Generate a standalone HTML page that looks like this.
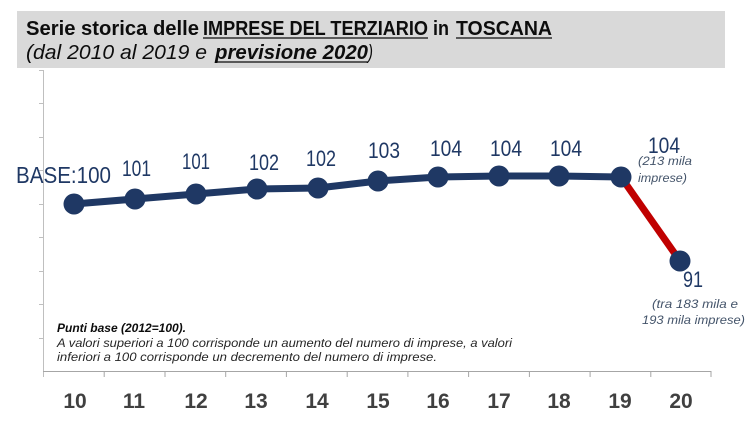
<!DOCTYPE html>
<html>
<head>
<meta charset="utf-8">
<style>
html,body{margin:0;padding:0;background:#fff;}
svg{display:block;}
text{font-family:"Liberation Sans",sans-serif;}
</style>
</head>
<body>
<svg width="750" height="421" viewBox="0 0 750 421" xmlns="http://www.w3.org/2000/svg">
  <rect x="0" y="0" width="750" height="421" fill="#ffffff"/>
  <!-- header box -->
  <rect x="17" y="11" width="708" height="57" fill="#D9D9D9"/>
  <!-- title -->
  <text x="26" y="35" font-size="20" font-weight="bold" fill="#0D0D0D" textLength="173" lengthAdjust="spacingAndGlyphs">Serie storica delle</text>
  <text x="203" y="35" font-size="20" font-weight="bold" fill="#0D0D0D" textLength="225" lengthAdjust="spacingAndGlyphs">IMPRESE DEL TERZIARIO</text>
  <text x="433" y="35" font-size="20" font-weight="bold" fill="#0D0D0D" textLength="16" lengthAdjust="spacingAndGlyphs">in</text>
  <text x="456" y="35" font-size="20" font-weight="bold" fill="#0D0D0D" textLength="96" lengthAdjust="spacingAndGlyphs">TOSCANA</text>
  <line x1="203" y1="38" x2="428" y2="38" stroke="#0D0D0D" stroke-width="1.3"/>
  <line x1="456" y1="38" x2="552" y2="38" stroke="#0D0D0D" stroke-width="1.3"/>
  <!-- subtitle -->
  <text x="26" y="59" font-size="20" font-style="italic" fill="#0D0D0D" textLength="181" lengthAdjust="spacingAndGlyphs">(dal 2010 al 2019 e</text>
  <text x="215" y="59" font-size="20" font-style="italic" font-weight="bold" fill="#0D0D0D" textLength="153" lengthAdjust="spacingAndGlyphs">previsione 2020</text>
  <text x="368" y="59" font-size="20" font-style="italic" fill="#0D0D0D" textLength="5" lengthAdjust="spacingAndGlyphs">)</text>
  <line x1="215" y1="62" x2="368" y2="62" stroke="#0D0D0D" stroke-width="1.3"/>

  <!-- y axis -->
  <g stroke="#BFBFBF" stroke-width="1">
    <line x1="43.5" y1="70" x2="43.5" y2="377"/>
    <line x1="39" y1="70.5" x2="43.5" y2="70.5"/>
    <line x1="39" y1="103.5" x2="43.5" y2="103.5"/>
    <line x1="39" y1="137.5" x2="43.5" y2="137.5"/>
    <line x1="39" y1="170.5" x2="43.5" y2="170.5"/>
    <line x1="39" y1="204.5" x2="43.5" y2="204.5"/>
    <line x1="39" y1="237.5" x2="43.5" y2="237.5"/>
    <line x1="39" y1="271.5" x2="43.5" y2="271.5"/>
    <line x1="39" y1="304.5" x2="43.5" y2="304.5"/>
    <line x1="39" y1="338.5" x2="43.5" y2="338.5"/>
  </g>
  <!-- x axis -->
  <g stroke="#A6A6A6" stroke-width="1">
    <line x1="43" y1="371.5" x2="711" y2="371.5"/>
    <line x1="104.2" y1="371" x2="104.2" y2="377"/>
    <line x1="165" y1="371" x2="165" y2="377"/>
    <line x1="225.7" y1="371" x2="225.7" y2="377"/>
    <line x1="286.4" y1="371" x2="286.4" y2="377"/>
    <line x1="347.2" y1="371" x2="347.2" y2="377"/>
    <line x1="407.9" y1="371" x2="407.9" y2="377"/>
    <line x1="468.6" y1="371" x2="468.6" y2="377"/>
    <line x1="529.4" y1="371" x2="529.4" y2="377"/>
    <line x1="590.1" y1="371" x2="590.1" y2="377"/>
    <line x1="650.8" y1="371" x2="650.8" y2="377"/>
    <line x1="711" y1="371" x2="711" y2="377"/>
  </g>
  <!-- x labels -->
  <g font-size="21" font-weight="bold" fill="#404040" text-anchor="middle">
    <text x="75" y="408">10</text>
    <text x="134" y="408">11</text>
    <text x="196" y="408">12</text>
    <text x="256" y="408">13</text>
    <text x="317" y="408">14</text>
    <text x="378" y="408">15</text>
    <text x="438" y="408">16</text>
    <text x="499" y="408">17</text>
    <text x="559" y="408">18</text>
    <text x="620" y="408">19</text>
    <text x="681" y="408">20</text>
  </g>

  <!-- series -->
  <polyline points="74,204 135,199 196,194 257,189 318,188 378,181 438,177 499,176 559,176 621,177" fill="none" stroke="#1F3864" stroke-width="7" stroke-linejoin="round"/>
  <line x1="621" y1="177" x2="680" y2="261" stroke="#C00000" stroke-width="7"/>
  <g fill="#1F3864">
    <circle cx="74" cy="204" r="10.5"/>
    <circle cx="135" cy="199" r="10.5"/>
    <circle cx="196" cy="194" r="10.5"/>
    <circle cx="257" cy="189" r="10.5"/>
    <circle cx="318" cy="188" r="10.5"/>
    <circle cx="378" cy="181" r="10.5"/>
    <circle cx="438" cy="177" r="10.5"/>
    <circle cx="499" cy="176" r="10.5"/>
    <circle cx="559" cy="176" r="10.5"/>
    <circle cx="621" cy="177" r="10.5"/>
    <circle cx="680" cy="261" r="10.5"/>
  </g>

  <!-- data labels -->
  <g font-size="22" fill="#1F3864">
    <text x="16" y="183" font-size="23" textLength="95" lengthAdjust="spacingAndGlyphs">BASE:100</text>
    <text x="122" y="176" textLength="29" lengthAdjust="spacingAndGlyphs">101</text>
    <text x="182" y="169" textLength="28" lengthAdjust="spacingAndGlyphs">101</text>
    <text x="249" y="170" textLength="30" lengthAdjust="spacingAndGlyphs">102</text>
    <text x="306" y="166" textLength="30" lengthAdjust="spacingAndGlyphs">102</text>
    <text x="368" y="158" textLength="32" lengthAdjust="spacingAndGlyphs">103</text>
    <text x="430" y="156" textLength="32" lengthAdjust="spacingAndGlyphs">104</text>
    <text x="490" y="156" textLength="32" lengthAdjust="spacingAndGlyphs">104</text>
    <text x="550" y="156" textLength="32" lengthAdjust="spacingAndGlyphs">104</text>
    <text x="648" y="153" textLength="32" lengthAdjust="spacingAndGlyphs">104</text>
    <text x="683" y="287" textLength="20" lengthAdjust="spacingAndGlyphs">91</text>
  </g>
  <g font-size="11.5" font-style="italic" fill="#44546A">
    <text x="638" y="165" textLength="54" lengthAdjust="spacingAndGlyphs">(213 mila</text>
    <text x="638" y="182" textLength="49" lengthAdjust="spacingAndGlyphs">imprese)</text>
    <text x="652" y="308" textLength="86" lengthAdjust="spacingAndGlyphs">(tra 183 mila e</text>
    <text x="642" y="324" textLength="103" lengthAdjust="spacingAndGlyphs">193 mila imprese)</text>
  </g>

  <!-- note -->
  <text x="57" y="332" font-size="11.5" font-style="italic" font-weight="bold" fill="#0D0D0D" textLength="129" lengthAdjust="spacingAndGlyphs">Punti base (2012=100).</text>
  <text x="57" y="347" font-size="11.5" font-style="italic" fill="#262626" textLength="455" lengthAdjust="spacingAndGlyphs">A valori superiori a 100 corrisponde un aumento del numero di imprese, a valori</text>
  <text x="57" y="361" font-size="11.5" font-style="italic" fill="#262626" textLength="380" lengthAdjust="spacingAndGlyphs">inferiori a 100 corrisponde un decremento del numero di imprese.</text>
</svg>
</body>
</html>
